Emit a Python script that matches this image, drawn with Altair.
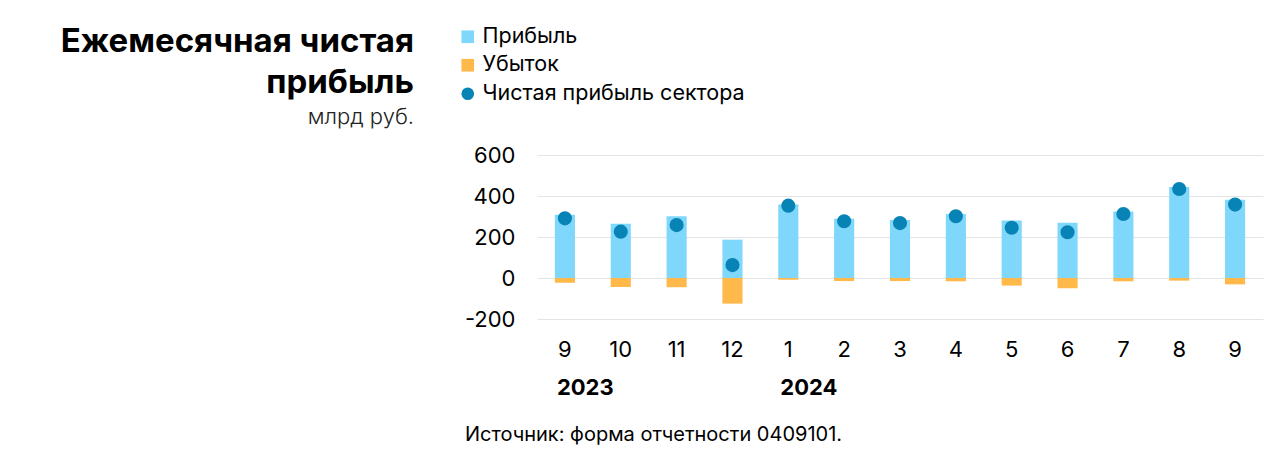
import altair as alt
import pandas as pd

# ---- data ----
months = ["2023-09", "2023-10", "2023-11", "2023-12", "2024-01", "2024-02", "2024-03",
          "2024-04", "2024-05", "2024-06", "2024-07", "2024-08", "2024-09"]
profit = [309, 265, 301, 187, 358, 289, 283, 312, 280, 270, 324, 444, 382]
loss = [-23, -44, -45, -125, -8, -15, -15, -16, -37, -50, -16, -13, -31]
net = [291, 226, 258, 63, 353, 277, 268, 301, 245, 223, 312, 434, 358]
year_keys = ["2023-09", "2024-01"]
year_labels = ["2023", "2024"]
series_names = ["Прибыль", "Убыток", "Чистая прибыль сектора"]
y_ticks = [-200, 0, 200, 400, 600]

title_lines = ["Ежемесячная чистая", "прибыль"]
subtitle = "млрд руб."
source = "Источник: форма отчетности 0409101."

FONT = "Inter"
colors = ["#7FD7FB", "#FFB84A", "#0883B5"]

bar_df = pd.DataFrame(
    {"key": months * 2,
     "value": profit + loss,
     "series": [series_names[0]] * len(months) + [series_names[1]] * len(months)}
)
net_df = pd.DataFrame({"key": months, "value": net, "series": series_names[2]})
year_df = pd.DataFrame({"key": year_keys, "label": year_labels})

color_scale = alt.Scale(domain=series_names, range=colors)
shape_scale = alt.Scale(domain=series_names, range=["square", "square", "circle"])
legend = alt.Legend(
    title=None, orient="none", legendX=-80, legendY=-129,
    labelFontSize=21.5, labelFont=FONT, labelColor="#000", labelLimit=0,
    symbolSize=160, rowPadding=5.5, labelOffset=4, padding=0,
    symbolStrokeWidth=0, symbolOpacity=1,
)

x_enc = alt.X(
    "key:N", sort=months, title=None,
    scale=alt.Scale(paddingInner=0.64, paddingOuter=0.32),
    axis=alt.Axis(
        labelAngle=0, labelFontSize=22, labelFont=FONT, labelColor="#000",
        ticks=False, domain=False, grid=False, labelPadding=20,
        labelExpr="'' + toNumber(split(datum.value, '-')[1])",
    ),
)
y_enc = alt.Y(
    "value:Q", stack=None, title=None,
    scale=alt.Scale(domain=[-200, 600], nice=False),
    axis=alt.Axis(
        values=y_ticks, labelFontSize=22, labelFont=FONT, labelColor="#000",
        ticks=False, domain=False, grid=True, gridColor="#e4e4e4",
        labelPadding=22, labelExpr="'' + datum.value",
    ),
)

bars = alt.Chart(bar_df).mark_bar().encode(
    x=x_enc, y=y_enc,
    color=alt.Color("series:N", scale=color_scale, legend=legend),
)

dots = alt.Chart(net_df).mark_point(filled=True, size=200, opacity=1).encode(
    x=alt.X("key:N", sort=months),
    y=alt.Y("value:Q"),
    color=alt.Color("series:N", scale=color_scale, legend=legend),
    shape=alt.Shape("series:N", scale=shape_scale, legend=legend),
)

years = alt.Chart(year_df).mark_text(
    align="left", baseline="alphabetic", dx=-8, fontSize=22,
    fontWeight="bold", font=FONT, color="#000",
).encode(
    x=alt.X("key:N", sort=months), y=alt.value(240), text="label:N"
)

title = alt.Chart(pd.DataFrame({"t": [0]})).mark_text(
    text=title_lines, align="right", baseline="alphabetic", fontSize=33,
    fontWeight="bold", font=FONT, color="#000", lineHeight=41,
).encode(x=alt.value(-123), y=alt.value(-103))

sub = alt.Chart(pd.DataFrame({"t": [0]})).mark_text(
    text=subtitle, align="right", baseline="alphabetic", fontSize=22,
    fontWeight=300, font=FONT, color="#222",
).encode(x=alt.value(-123), y=alt.value(-31))

src = alt.Chart(pd.DataFrame({"t": [0]})).mark_text(
    text=source, align="left", baseline="alphabetic", fontSize=20,
    font=FONT, color="#000",
).encode(x=alt.value(-72), y=alt.value(286))

chart = (
    alt.layer(bars, dots, years, title, sub, src)
    .properties(
        width=726, height=164,
        autosize=alt.AutoSizeParams(type="none"),
        padding={"left": 529, "top": 147, "right": 9, "bottom": 128},
    )
    .configure(font=FONT)
    .configure_view(stroke=None, strokeWidth=0)
    .configure_axis(domain=False, ticks=False)
    .configure_axisX(grid=False)
)

chart.save("out.html", embed_options={"renderer": "svg", "actions": False})
